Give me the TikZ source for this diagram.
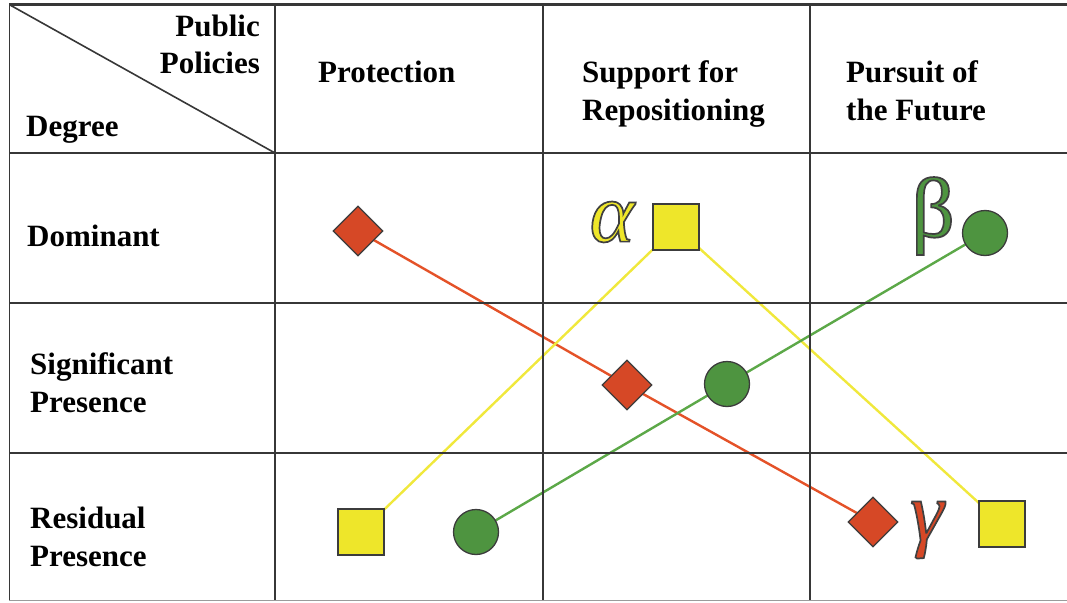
\documentclass[tikz,border=0pt]{standalone}
\usepackage{fontspec}
\setmainfont{Liberation Serif}
\newfontfamily\greekfont{Liberation Serif}[FakeBold=2]
\usetikzlibrary{shapes.geometric,backgrounds}
\definecolor{gridc}{RGB}{55,55,55}
\definecolor{outc}{RGB}{60,60,60}
\definecolor{redf}{RGB}{214,72,38}
\definecolor{redl}{RGB}{228,82,40}
\definecolor{yelf}{RGB}{238,230,42}
\definecolor{yell}{RGB}{240,232,60}
\definecolor{grnf}{RGB}{78,148,64}
\definecolor{grnl}{RGB}{92,168,72}
\newcommand\outlined[1]{\special{pdf:literal direct 0.25 0.25 0.25 RG}#1}
\tikzset{
  gridline/.style={draw=gridc, line width=1.4pt},
  lab/.style={anchor=base west, font=\fontsize{31}{38}\selectfont\bfseries, inner sep=0pt, align=left},
  dia/.style={diamond, draw=outc, line width=1.3pt, fill=redf, minimum width=50pt, minimum height=50pt, inner sep=0pt},
  sq/.style={rectangle, draw=outc, line width=1.3pt, fill=yelf, minimum size=46pt, inner sep=0pt},
  circ/.style={circle, draw=outc, line width=1.3pt, fill=grnf, minimum size=45pt, inner sep=0pt},
  greek/.style={inner sep=0pt, font=\greekfont\fontsize{85}{85}\selectfont\itshape},
  conn/.style={line width=2.4pt}
}
\begin{document}
\begin{tikzpicture}[x=1pt,y=-1pt]
\useasboundingbox (0,0) rectangle (1067,602);
% grid
\draw[gridc, line width=2.4pt] (9,4.5) -- (1067,4.5);
\draw[gridline] (9.5,4) -- (9.5,601);
\foreach \x in {275,543,810} \draw[gridline] (\x,4) -- (\x,601);
\foreach \y in {153,303,453} \draw[gridline] (9,\y) -- (1067,\y);
\draw[gridc!50, line width=1.2pt] (9,600.5) -- (1067,600.5);
\draw[gridc, line width=1.6pt] (10,5) -- (275,153);
% header texts
\node[lab, anchor=base east] (pub) at (260,37) {Public};
\node[lab, anchor=base east] (pol) at (260,74) {Policies};
\node[lab] (deg) at (26,136) {Degree};
\node[lab] (prot) at (318,82) {Protection};
\node[lab] (supp) at (582,120) {Support for\\Repositioning};
\node[lab] (purs) at (846,120) {Pursuit of\\the Future};
\node[lab] (dom) at (27,246) {Dominant};
\node[lab] (sig) at (30,412) {Significant\\Presence};
\node[lab] (res) at (30,566) {Residual\\Presence};
% shapes
\node[dia] (r1) at (358,231) {};
\node[dia] (r2) at (627,385) {};
\node[dia] (r3) at (873,522) {};
\node[sq] (y1) at (361,532) {};
\node[sq] (y2) at (676,227) {};
\node[sq] (y3) at (1002,524) {};
\node[circ] (g1) at (476,532) {};
\node[circ] (g2) at (727,384) {};
\node[circ] (g3) at (985,233) {};
% connectors
\begin{scope}[on background layer]
\draw[conn, redl] (r1.center) -- (r2.center) -- (r3.center);
\draw[conn, yell] (y1.center) -- (y2.center) -- (y3.center);
\draw[conn, grnl] (g1.center) -- (g2.center) -- (g3.center);
\end{scope}
% greek letters
\node[greek, text=yelf] (alpha) at (612,222) {\outlined{α}};
\node[greek, text=grnf, font=\greekfont\fontsize{85}{85}\selectfont] (beta) at (933,216) {\outlined{β}};
\node[greek, text=redf] (gamma) at (927,530) {\outlined{γ}};
\end{tikzpicture}
\end{document}
